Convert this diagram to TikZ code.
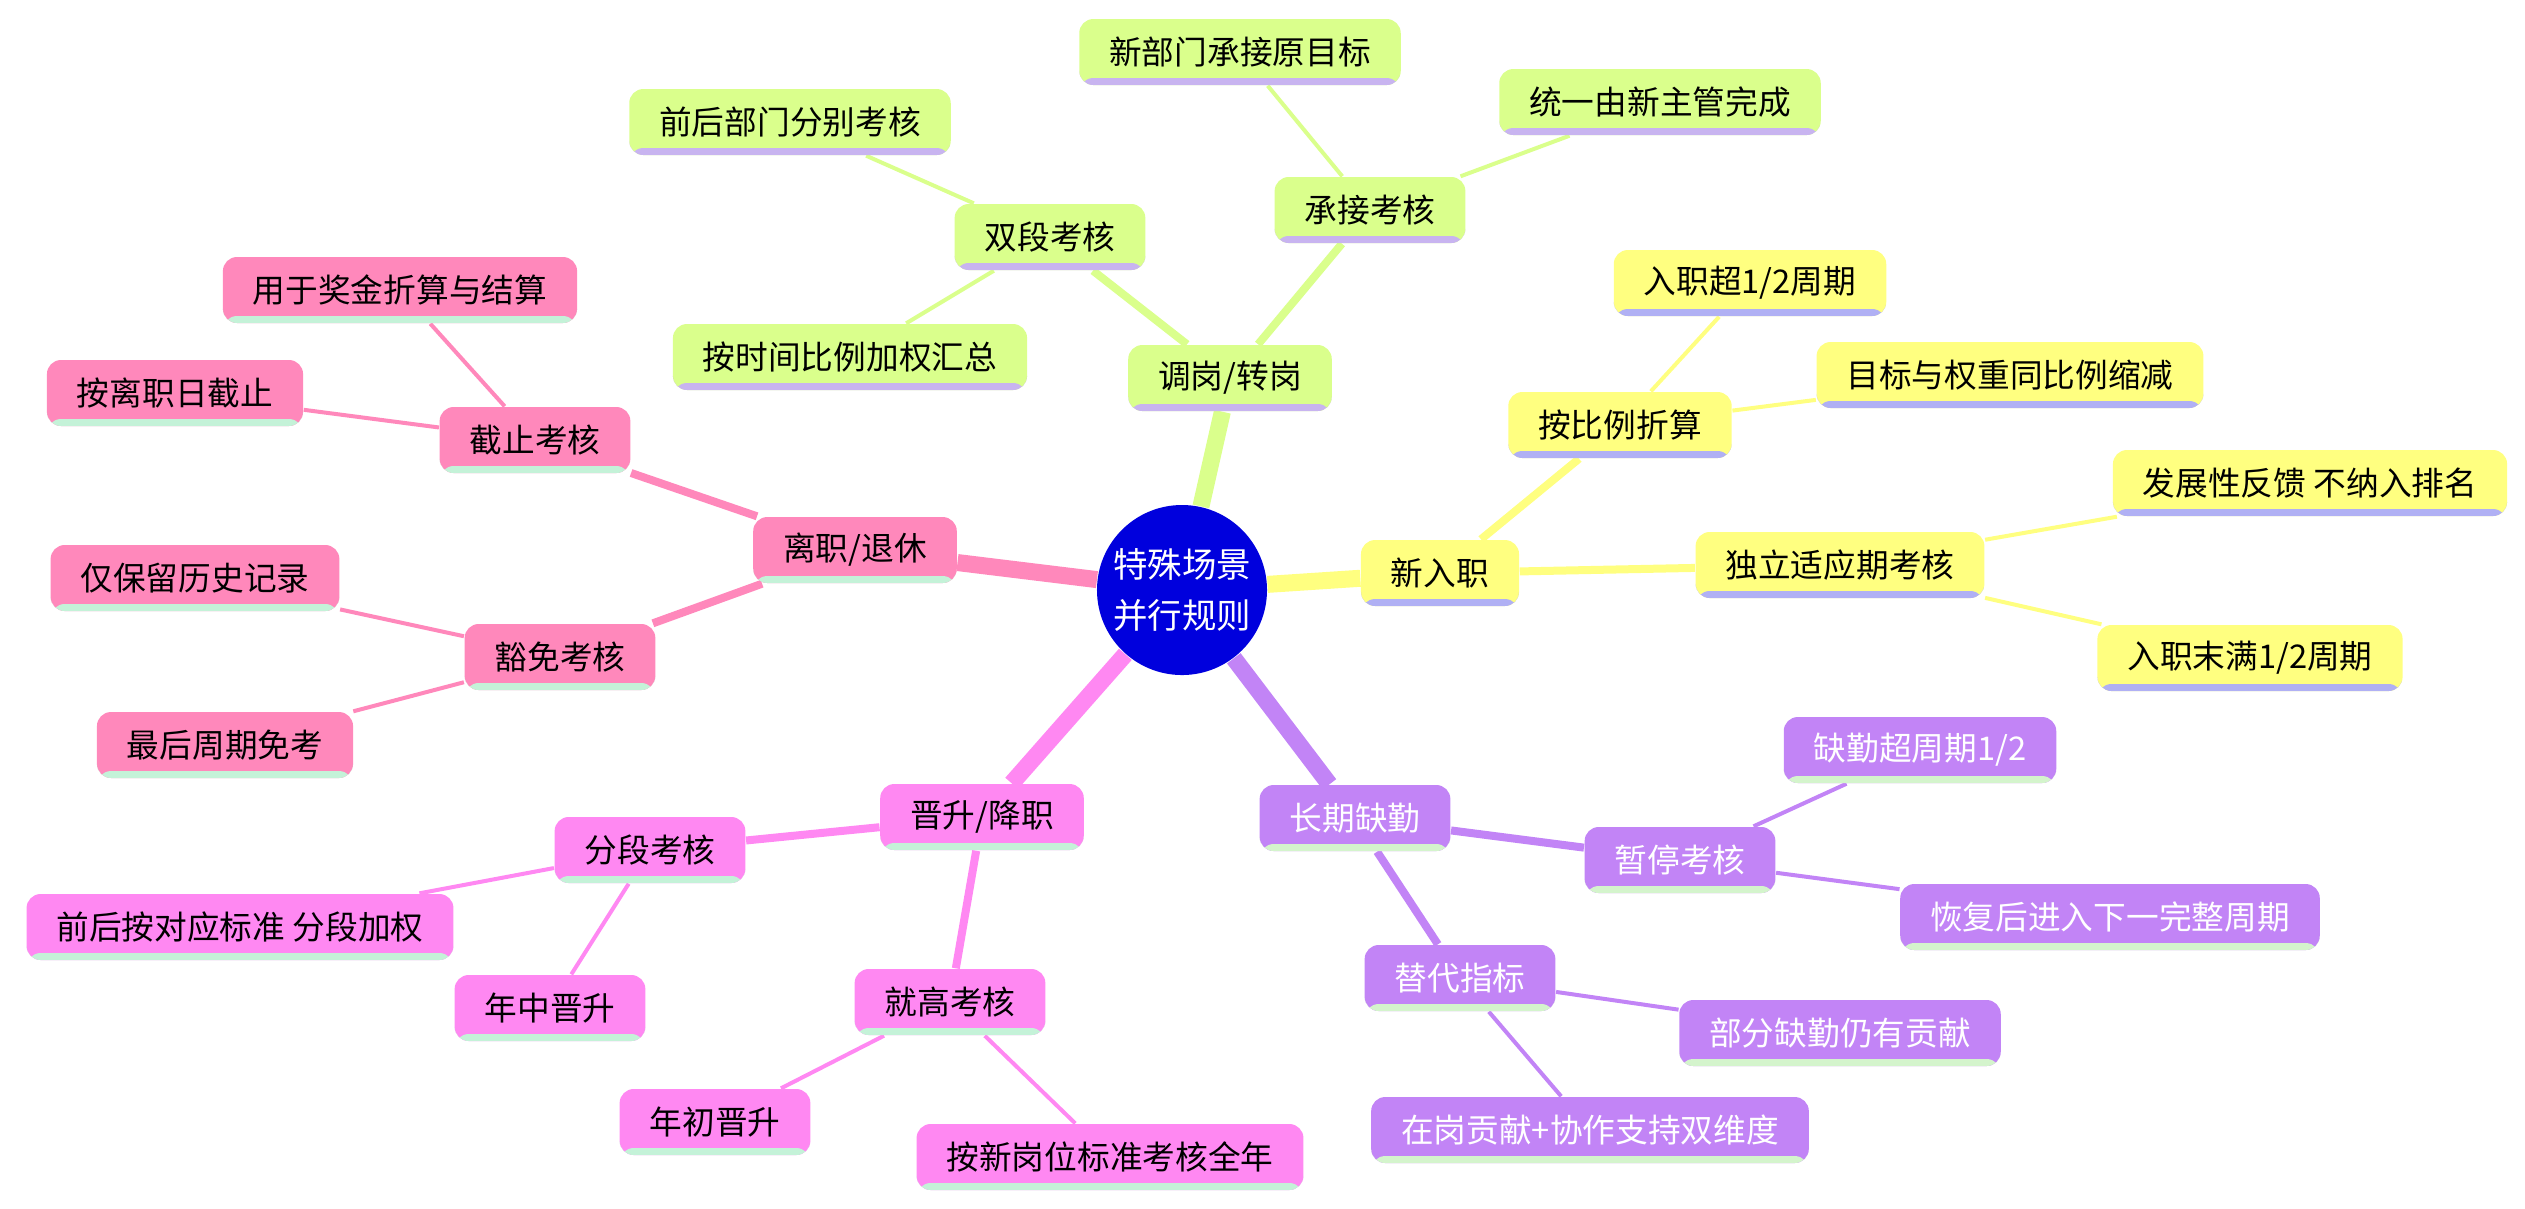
\documentclass[tikz,border=0pt]{standalone}
\usepackage{fontspec}
\newfontfamily\cjk{Noto Sans CJK SC}
\usetikzlibrary{positioning,backgrounds}
\definecolor{yel}{HTML}{FFFF80}
\definecolor{yelbar}{HTML}{B0B0F4}
\definecolor{grn}{HTML}{DAFF8C}
\definecolor{grnbar}{HTML}{C8B4F0}
\definecolor{pnk}{HTML}{FF88BB}
\definecolor{mag}{HTML}{FF88F2}
\definecolor{mint}{HTML}{C4F2D8}
\definecolor{ppl}{HTML}{C284F6}
\definecolor{pplbar}{HTML}{D4F4CC}
\definecolor{core}{HTML}{0000DD}

\tikzset{
  box/.style 2 args={fill=#1, rounded corners=4pt, inner xsep=0.3cm, minimum height=0.66cm,
    font=\cjk\fontsize{9.3}{11}\selectfont,
    path picture={\fill[#2] ([yshift=0.07cm]path picture bounding box.south west) rectangle (path picture bounding box.south east);}},
  ybox/.style={box={yel}{yelbar}},
  gbox/.style={box={grn}{grnbar}},
  pbox/.style={box={pnk}{mint}},
  mbox/.style={box={mag}{mint}},
  vbox/.style={box={ppl}{pplbar}, text=white},
  trunk/.style={line width=0.17cm},
  limb/.style={line width=0.08cm},
  twig/.style={line width=0.04cm}
}

\begin{document}
\begin{tikzpicture}
  \useasboundingbox (0,0) rectangle (25.25,-12.08);

  % centre
  \node[circle, fill=core, text=white, minimum size=1.45cm, inner sep=1pt, align=center,
        font=\cjk\fontsize{9.8}{14.5}\selectfont] (root) at (11.82,-5.9) {特殊场景\\并行规则};

  % new hire
  \node[ybox] (hire) at (14.40,-5.73) {新入职};
  \node[ybox] (ratio) at (16.20,-4.25) {按比例折算};
  \node[ybox] (over) at (17.50,-2.83) {入职超1/2周期};
  \node[ybox] (scale) at (20.10,-3.75) {目标与权重同比例缩减};
  \node[ybox] (adapt) at (18.40,-5.65) {独立适应期考核};
  \node[ybox] (feed) at (23.10,-4.83) {发展性反馈 不纳入排名};
  \node[ybox] (under) at (22.50,-6.58) {入职末满1/2周期};

  % transfer
  \node[gbox] (move) at (12.30,-3.78) {调岗/转岗};
  \node[gbox] (dual) at (10.50,-2.37) {双段考核};
  \node[gbox] (dept) at (7.90,-1.22) {前后部门分别考核};
  \node[gbox] (wsum) at (8.50,-3.57) {按时间比例加权汇总};
  \node[gbox] (take) at (13.70,-2.10) {承接考核};
  \node[gbox] (goal) at (12.40,-0.52) {新部门承接原目标};
  \node[gbox] (boss) at (16.60,-1.02) {统一由新主管完成};

  % leave
  \node[pbox] (quit) at (8.55,-5.50) {离职/退休};
  \node[pbox] (cut) at (5.35,-4.40) {截止考核};
  \node[pbox] (bonus) at (4.00,-2.90) {用于奖金折算与结算};
  \node[pbox] (day) at (1.75,-3.93) {按离职日截止};
  \node[pbox] (free) at (5.60,-6.57) {豁免考核};
  \node[pbox] (hist) at (1.95,-5.78) {仅保留历史记录};
  \node[pbox] (last) at (2.25,-7.45) {最后周期免考};

  % promotion
  \node[mbox] (promo) at (9.82,-8.17) {晋升/降职};
  \node[mbox] (seg) at (6.50,-8.50) {分段考核};
  \node[mbox] (segw) at (2.40,-9.27) {前后按对应标准 分段加权};
  \node[mbox] (mid) at (5.50,-10.08) {年中晋升};
  \node[mbox] (high) at (9.50,-10.02) {就高考核};
  \node[mbox] (early) at (7.15,-11.22) {年初晋升};
  \node[mbox] (year) at (11.10,-11.57) {按新岗位标准考核全年};

  % absence
  \node[vbox] (absent) at (13.55,-8.18) {长期缺勤};
  \node[vbox] (pause) at (16.80,-8.60) {暂停考核};
  \node[vbox] (half) at (19.20,-7.50) {缺勤超周期1/2};
  \node[vbox] (resume) at (21.10,-9.17) {恢复后进入下一完整周期};
  \node[vbox] (alt) at (14.60,-9.78) {替代指标};
  \node[vbox] (part) at (18.40,-10.33) {部分缺勤仍有贡献};
  \node[vbox] (dim) at (15.90,-11.30) {在岗贡献+协作支持双维度};

  \begin{scope}[on background layer]
    \draw[trunk, yel] (root) -- (hire);
    \draw[limb, yel] (hire) -- (ratio);
    \draw[limb, yel] (hire) -- (adapt);
    \draw[twig, yel] (ratio) -- (over);
    \draw[twig, yel] (ratio) -- (scale);
    \draw[twig, yel] (adapt) -- (feed);
    \draw[twig, yel] (adapt) -- (under);

    \draw[trunk, grn] (root) -- (move);
    \draw[limb, grn] (move) -- (dual);
    \draw[limb, grn] (move) -- (take);
    \draw[twig, grn] (dual) -- (dept);
    \draw[twig, grn] (dual) -- (wsum);
    \draw[twig, grn] (take) -- (goal);
    \draw[twig, grn] (take) -- (boss);

    \draw[trunk, pnk] (root) -- (quit);
    \draw[limb, pnk] (quit) -- (cut);
    \draw[limb, pnk] (quit) -- (free);
    \draw[twig, pnk] (cut) -- (bonus);
    \draw[twig, pnk] (cut) -- (day);
    \draw[twig, pnk] (free) -- (hist);
    \draw[twig, pnk] (free) -- (last);

    \draw[trunk, mag] (root) -- (promo);
    \draw[limb, mag] (promo) -- (seg);
    \draw[limb, mag] (promo) -- (high);
    \draw[twig, mag] (seg) -- (segw);
    \draw[twig, mag] (seg) -- (mid);
    \draw[twig, mag] (high) -- (early);
    \draw[twig, mag] (high) -- (year);

    \draw[trunk, ppl] (root) -- (absent);
    \draw[limb, ppl] (absent) -- (pause);
    \draw[limb, ppl] (absent) -- (alt);
    \draw[twig, ppl] (pause) -- (half);
    \draw[twig, ppl] (pause) -- (resume);
    \draw[twig, ppl] (alt) -- (part);
    \draw[twig, ppl] (alt) -- (dim);
  \end{scope}
\end{tikzpicture}
\end{document}
